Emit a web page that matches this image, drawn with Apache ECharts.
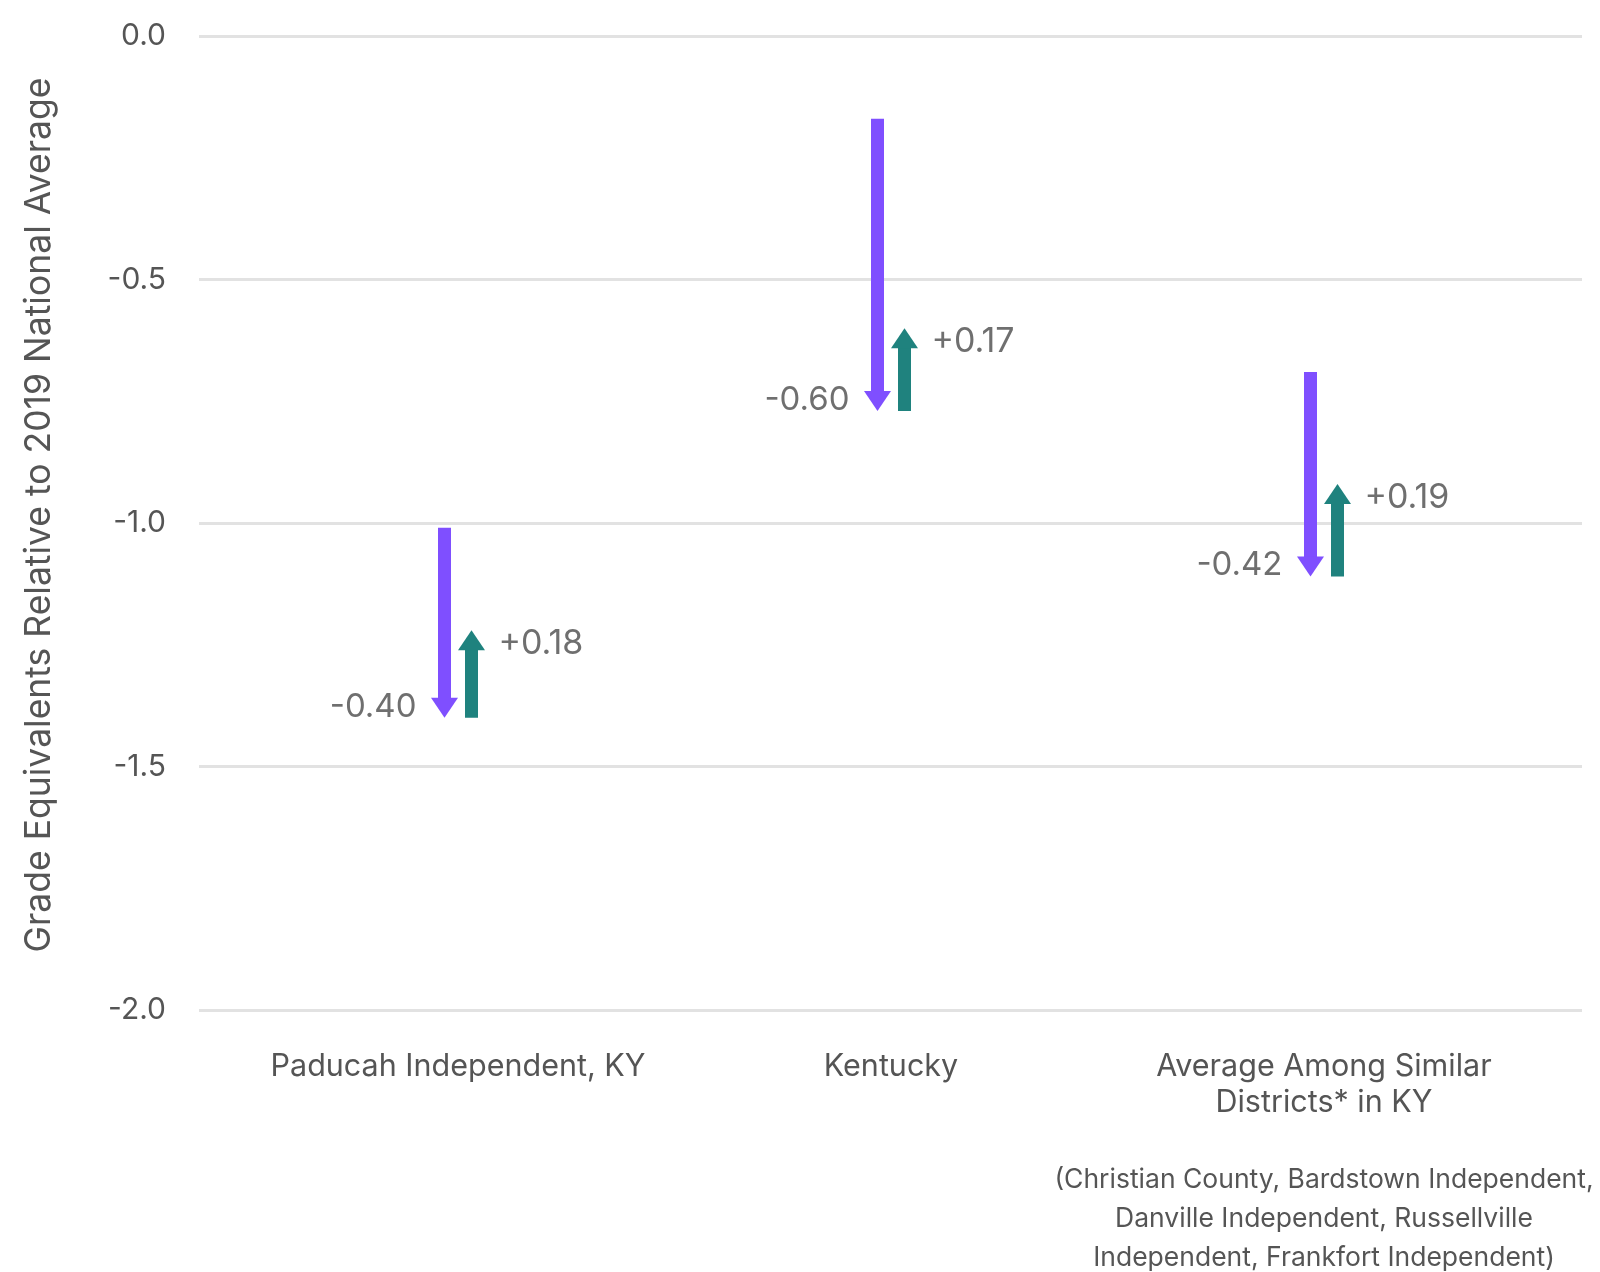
<!DOCTYPE html>
<html>
<head>
<meta charset="utf-8">
<script src="https://cdn.jsdelivr.net/npm/echarts@6/dist/echarts.min.js"></script>
<style>
html,body{margin:0;padding:0;background:#fff;}
#chart{width:1600px;height:1272px;}
</style>
</head>
<body>
<div id="chart"></div>
<script>
const categories = ['Paducah Independent, KY', 'Kentucky', 'Average Among Similar\nDistricts* in KY'];
const footnoteLines = ['(Christian County, Bardstown Independent,', 'Danville Independent, Russellville', 'Independent, Frankfort Independent)'];
const startValues = [-1.01, -0.17, -0.69];
const lowValues = [-1.40, -0.77, -1.11];
const endValues = [-1.22, -0.60, -0.92];
const dropLabels = ['-0.40', '-0.60', '-0.42'];
const gainLabels = ['+0.18', '+0.17', '+0.19'];
const yMin = -2.0, yMax = 0.0, yStep = 0.5;
const yAxisTitle = 'Grade Equivalents Relative to 2019 National Average';

const FONT = 'Inter, "Liberation Sans", Arial, sans-serif';
const PURPLE = '#7f4fff';
const TEAL = '#1f827e';

const chart = echarts.init(document.getElementById('chart'), null, {renderer: 'canvas'});

function renderArrows(params, api) {
  const i = params.dataIndex;
  const x = api.coord([api.value(0), 0])[0];
  const yS = api.coord([api.value(0), api.value(1)])[1];
  const yL = api.coord([api.value(0), api.value(2)])[1];
  const yE = api.coord([api.value(0), api.value(3)])[1];
  const off = 13.5, sw = 13, hw = 27, hl = 20;
  const cp = x - off, ct = x + off;
  return {
    type: 'group',
    children: [
      {type: 'rect', shape: {x: cp - sw / 2, y: yS, width: sw, height: yL - hl - yS + 0.5}, style: {fill: PURPLE}},
      {type: 'polygon', shape: {points: [[cp - hw / 2, yL - hl], [cp + hw / 2, yL - hl], [cp, yL]]}, style: {fill: PURPLE}},
      {type: 'rect', shape: {x: ct - sw / 2, y: yE + hl - 0.5, width: sw, height: yL - yE - hl + 0.5}, style: {fill: TEAL}},
      {type: 'polygon', shape: {points: [[ct - hw / 2, yE + hl], [ct + hw / 2, yE + hl], [ct, yE]]}, style: {fill: TEAL}},
      {type: 'text', style: {text: dropLabels[i], x: cp - 28, y: yL - 11, align: 'right', verticalAlign: 'middle', fill: '#6f6f6f', font: '33px ' + FONT}},
      {type: 'text', style: {text: gainLabels[i], x: ct + 27, y: yE + 14, align: 'left', verticalAlign: 'middle', fill: '#6f6f6f', font: '34px ' + FONT}}
    ]
  };
}

const option = {
  backgroundColor: '#ffffff',
  animation: false,
  grid: [
    {left: 199, right: 18, top: 36, bottom: 262},
    {left: 241.5, right: 59.5, top: 36, bottom: 262}
  ],
  xAxis: [
    {gridIndex: 0, type: 'value', show: false, min: 0, max: 1},
    {
      gridIndex: 1, type: 'category', data: categories,
      axisLine: {show: false}, axisTick: {show: false},
      axisLabel: {
        interval: 0, margin: 39,
        formatter: function (value, idx) {
          let s = value.split('\n').map(l => '{a|' + l + '}').join('\n');
          if (idx === 2) {
            s += '\n{g|}\n' + footnoteLines.map(l => '{f|' + l + '}').join('\n');
          }
          return s;
        },
        rich: {
          a: {fontSize: 30.5, lineHeight: 36, color: '#555555', fontFamily: FONT, align: 'center'},
          g: {fontSize: 10, lineHeight: 40},
          f: {fontSize: 26.5, lineHeight: 39, color: '#555555', fontFamily: FONT, align: 'center'}
        }
      }
    }
  ],
  yAxis: [
    {
      gridIndex: 0, type: 'value', min: yMin, max: yMax, interval: yStep,
      axisLine: {show: false}, axisTick: {show: false},
      splitLine: {show: true, lineStyle: {color: '#e2e2e2', width: 3}},
      axisLabel: {margin: 33, fontSize: 30, color: '#555555', fontFamily: FONT, padding: [5, 0, 0, 0], formatter: v => v.toFixed(1)},
      name: yAxisTitle, nameLocation: 'middle', nameGap: 142,
      nameTextStyle: {fontSize: 35.5, color: '#555555', fontFamily: FONT, padding: [0, 0, 0, 16]}
    },
    {gridIndex: 1, type: 'value', min: yMin, max: yMax, show: false}
  ],
  series: [
    {
      type: 'custom',
      xAxisIndex: 1, yAxisIndex: 1,
      renderItem: renderArrows,
      encode: {x: 0, y: [1, 2, 3]},
      data: categories.map((c, i) => [i, startValues[i], lowValues[i], endValues[i]]),
      clip: false
    }
  ]
};
chart.setOption(option);
</script>
</body>
</html>
